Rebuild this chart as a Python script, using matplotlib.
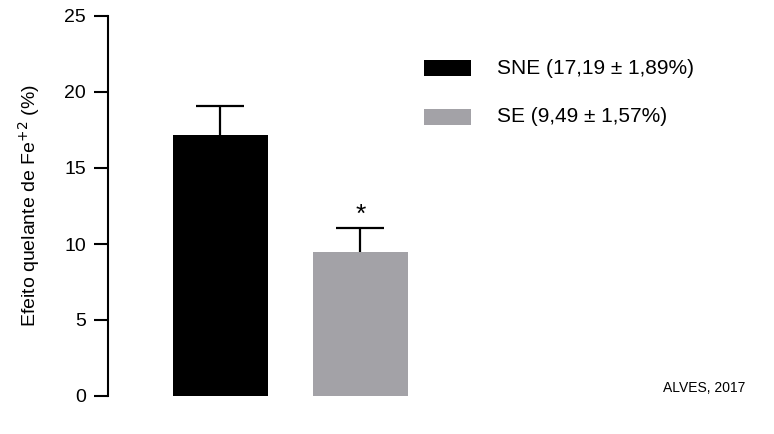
import matplotlib
matplotlib.use("Agg")
import matplotlib.pyplot as plt
from matplotlib.patches import Rectangle

plt.rcParams["font.family"] = ["Liberation Sans", "DejaVu Sans"]

groups = ["SNE", "SE"]
means = [17.19, 9.49]
sds = [1.89, 1.57]
colors = ["#000000", "#a3a2a7"]
yticks = [0, 5, 10, 15, 20, 25]


def fmt(v):
    return f"{v:.2f}".replace(".", ",")


fig = plt.figure(figsize=(7.74, 4.34), dpi=100)
ax = fig.add_axes([108 / 774, 1 - 396 / 434, (430 - 108) / 774, 380 / 434])

x = [0, 1]
ax.bar(x, means, width=0.68, color=colors, zorder=2)
eb = ax.errorbar(x, means, yerr=[[0, 0], sds], fmt="none", ecolor="k",
                 elinewidth=1.6, capsize=17, capthick=1.6, zorder=3)
eb[1][0].set_visible(False)   # drop the lower cap, only the upper bar is shown
ax.text(x[1], means[1] + sds[1] + 0.05, "*", ha="center", va="bottom", fontsize=19)

ax.set_xlim(-0.8, 1.496)
ax.set_ylim(0, 25)
ax.set_yticks(yticks)
ax.set_xticks([])
for s in ["top", "right", "bottom"]:
    ax.spines[s].set_visible(False)
ax.spines["left"].set_linewidth(1.5)
ax.tick_params(axis="y", direction="out", length=10, width=1.5, pad=6, labelsize=14)
ax.set_ylabel("Efeito quelante de Fe$^{+2}$ (%)", fontsize=14, labelpad=16)

# legend, hand placed
for i, (g, m, s, c) in enumerate(zip(groups, means, sds, colors)):
    y0 = 1 - (76 + i * 49) / 434
    fig.add_artist(Rectangle((424 / 774, y0), 47 / 774, 16 / 434,
                             transform=fig.transFigure, color=c, lw=0))
    fig.text(497 / 774, y0 + 8 / 434, f"{g} ({fmt(m)} ± {fmt(s)}%)",
             va="center", ha="left", fontsize=15)

fig.text(745 / 774, 1 - 388 / 434, "ALVES, 2017", ha="right", va="center", fontsize=10)

fig.savefig("out.png", dpi=100)
